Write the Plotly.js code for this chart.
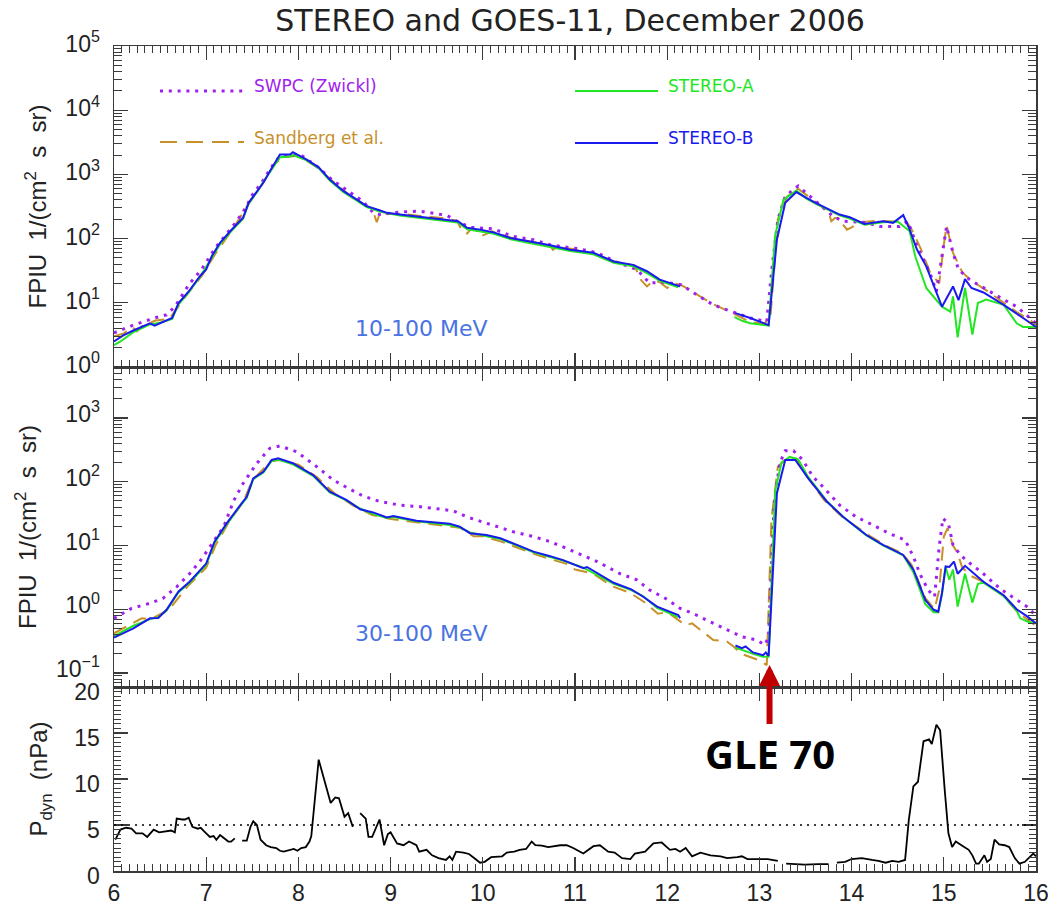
<!DOCTYPE html>
<html>
<head>
<meta charset="utf-8">
<script src="https://cdn.plot.ly/plotly-3.0.1.min.js"></script>
<style>
  html, body { margin: 0; padding: 0; background: #fff; }
  #chart { width: 1048px; height: 907px; }
</style>
</head>
<body>
<div id="chart"></div>
<script>
// ---------- Proton flux, 10-100 MeV (pfu) ----------
const hiSwpcDay = [6.0,6.21,6.44,6.57,6.66,6.72,6.82,6.95,7.10,7.17,7.33,7.44,7.49,7.60,7.67,7.76,7.87,8.02,8.20,8.38,8.54,8.70,8.81,8.88,9.10,9.32,9.61,9.72,9.86,10.11,10.33,10.55,10.73,11.05,11.24,11.45,11.67,11.81,11.96,12.16,12.32,12.50,12.70,12.90,13.08,13.13,13.20,13.28,13.42,13.55,13.66,13.80,13.91,14.13,14.31,14.52,14.61,14.71,14.85,14.92,14.98,15.03,15.10,15.16,15.28,15.43,15.65,15.79,15.93,16.0];
const hiSwpcFlux = [3.4,4.5,5.8,6.5,8.7,11.8,20,33,72,96,186,320,458,740,1060,1700,1950,2040,1340,790,548,380,255,237,260,267,230,186,150,142,108,96,80,69,60,43,33,20.3,21,19,13.3,9.3,7.3,5.8,5.1,29,198,458,660,458,340,223,186,180,155,155,186,76,29,15,53,155,60,33,23,17,11.2,8.7,5.8,4.8];

const hiSandDay = [6.0,6.1,6.2,6.25,6.3,6.45,6.6,6.7,6.8,6.95,7.1,7.3,7.45,7.6,7.75,7.85,8.0,8.2,8.4,8.6,8.78,8.82,8.85,8.88,9.1,9.3,9.55,9.72,9.78,9.83,9.87,9.93,9.97,10.02,10.1,10.3,10.5,10.73,10.76,10.8,11.0,11.2,11.45,11.65,11.70,11.78,11.85,11.92,12.0,12.07,12.15,12.3,12.5,12.7,12.9,13.05,13.12,13.2,13.3,13.42,13.55,13.65,13.75,13.78,13.82,13.85,13.95,14.0,14.1,14.3,14.45,14.6,14.65,14.75,14.85,14.95,15.0,15.03,15.1,15.2,15.3,15.45,15.65,15.8,15.93,16.0];
const hiSandFlux = [3.0,3.3,4.2,3.6,4.3,5.3,5.6,8.8,14,26,58,150,330,690,1500,1850,1950,1300,720,420,300,240,180,240,245,228,210,190,128,120,140,135,108,115,130,104,92,78,67,74,68,58,43,38,24,18,22,21,17,20,19,14,9.5,7,5.0,4.7,6,200,450,600,430,340,260,186,210,210,138,150,180,190,185,180,140,70,30,20,80,160,60,30,22,16,10,7,5.5,4.5];

const hiStaDay = [6.0,6.07,6.21,6.39,6.5,6.63,6.70,6.81,6.93,7.06,7.15,7.26,7.40,7.46,7.55,7.69,7.80,7.91,7.94,8.09,8.22,8.34,8.49,8.63,8.74,8.88,9.10,9.32,9.54,9.73,9.83,9.97,10.11,10.30,10.51,10.73,10.95,11.20,11.42,11.63,11.78,11.92,12.12,12.4,12.73,12.82,12.90,13.10,13.17,13.26,13.40,13.51,13.62,13.87,13.98,14.14,14.34,14.50,14.63,14.69,14.81,14.94,14.98,15.07,15.10,15.15,15.23,15.31,15.37,15.46,15.65,15.79,15.86,16.0];
const hiStaFlux = [2.2,2.5,3.5,4.6,4.9,5.6,9.5,14.5,25,50,82,125,205,350,530,1080,1850,1900,2000,1650,1250,800,530,395,310,265,228,210,195,178,140,130,120,98,86,75,64,57,42,37,29,22,17.5,null,6.0,5.2,4.8,4.4,110,400,560,420,345,230,205,165,180,185,130,53,17,9.9,8.7,7.3,12.6,2.9,17,3.2,9.9,11.2,9.3,4.8,4.2,4.2];

const hiStbDay = [6.0,6.1,6.21,6.3,6.39,6.44,6.55,6.63,6.70,6.81,6.93,7.0,7.06,7.15,7.26,7.40,7.46,7.55,7.62,7.69,7.80,7.91,7.94,8.09,8.22,8.34,8.49,8.63,8.74,8.88,8.96,9.10,9.32,9.54,9.73,9.83,9.97,10.11,10.30,10.51,10.73,10.95,11.20,11.42,11.63,11.78,11.92,12.14,12.4,12.74,12.90,13.10,13.19,13.28,13.40,13.51,13.62,13.87,13.98,14.14,14.34,14.45,14.56,14.63,14.71,14.81,14.98,15.10,15.16,15.23,15.30,15.43,15.65,15.86,16.0];
const hiStbFlux = [2.5,3.1,3.7,4.2,4.8,4.4,5.1,5.8,9.9,15,25.7,33,53,86,130,211,361,548,740,1120,2040,2040,2220,1700,1290,830,548,407,320,277,252,237,218,204,186,147,138,126,102,90,79,67,60,44,39,31,23,18,null,6.9,5.8,4.5,96,361,530,430,354,237,215,169,187,176,232,138,67,37,8.7,18,11,23.4,17,14.5,9.3,5.8,4.2];

// ---------- Proton flux, 30-100 MeV (pfu) ----------
const loSwpcDay = [6.0,6.19,6.39,6.53,6.68,6.82,6.93,7.04,7.19,7.30,7.40,7.55,7.69,7.80,7.98,8.20,8.38,8.54,8.70,8.88,9.10,9.32,9.68,9.83,10.11,10.33,10.55,10.73,10.95,11.24,11.49,11.67,11.81,11.98,12.14,12.28,12.46,12.64,12.81,12.97,13.06,13.10,13.13,13.16,13.22,13.28,13.37,13.47,13.58,13.69,13.87,14.05,14.23,14.40,14.58,14.67,14.74,14.83,14.90,14.95,14.99,15.05,15.10,15.18,15.28,15.43,15.61,15.79,15.93,16.0];
const loSwpcFlux = [0.72,1.03,1.24,1.48,2.25,3.6,5.6,9.5,19.7,51,94,195,335,364,296,172,106,79,60,49,43,40.6,35,28,21,16.4,13.8,11.5,8.5,5.6,3.6,2.9,2.0,1.48,1.03,0.86,0.64,0.48,0.37,0.33,0.275,0.37,5.9,46,195,307,307,220,120,83,43,28,21,15.6,12.2,6.7,3.6,2.0,1.57,9.5,26.7,22,10.2,7.1,5.3,3.6,2.1,1.4,1.03,0.76];

const loSandDay = [6.0,6.2,6.3,6.4,6.6,6.8,7.0,7.1,7.25,7.4,7.5,7.7,7.8,8.0,8.2,8.4,8.6,8.8,9.0,9.3,9.6,9.75,9.9,10.0,10.2,10.4,10.6,10.75,10.9,11.0,11.2,11.4,11.6,11.75,11.9,12.0,12.1,12.2,12.27,12.4,12.5,12.65,12.72,12.8,12.9,13.0,13.08,13.13,13.2,13.3,13.4,13.5,13.7,13.9,14.2,14.4,14.55,14.6,14.65,14.8,14.9,14.95,15.0,15.04,15.1,15.15,15.2,15.3,15.45,15.65,15.8,15.93,16.0];
const loSandFlux = [0.42,0.6,0.72,0.7,1.0,2.3,4.5,10,24,48,105,210,220,185,118,64,42,30,26,23,20.5,19,14,14,11.5,9,7,6,5.2,4.2,3.6,2.3,1.8,1.3,0.85,0.9,0.7,0.56,0.6,0.42,0.33,0.31,0.26,0.2,0.18,0.158,0.133,25,172,240,230,130,52,28,14,9.5,7.5,6.2,5.0,1.5,1.0,2,13.8,18.6,10,7.5,4.5,3.3,2.6,1.6,0.9,0.65,0.55];

const loStaDay = [6.0,6.1,6.21,6.39,6.48,6.57,6.70,6.82,7.0,7.09,7.22,7.37,7.44,7.51,7.62,7.71,7.78,7.94,8.16,8.34,8.52,8.67,8.81,8.96,9.03,9.28,9.64,9.75,9.86,10.04,10.19,10.37,10.55,10.73,10.87,11.09,11.42,11.61,11.74,11.89,12.12,12.4,12.74,12.81,12.93,13.04,13.10,13.17,13.24,13.33,13.42,13.53,13.73,13.91,14.16,14.34,14.56,14.67,14.80,14.89,14.94,14.98,15.02,15.06,15.10,15.15,15.23,15.31,15.37,15.43,15.65,15.79,15.83,15.93,16.0];
const loStaFlux = [0.38,0.45,0.55,0.7,0.75,0.95,1.85,2.6,5.0,11,21,42,56,110,140,212,222,188,124,68,51,38,31,27,28,24,21,19.2,16,14,12.6,10,7.8,6.6,5.8,4.5,2.5,2.0,1.6,1.05,0.75,null,0.25,0.23,0.2,0.18,0.18,70,200,245,225,118,50,28,14.4,10,7.0,3.8,1.2,0.9,0.9,1.7,4.6,2.9,4.2,1.1,3.6,1.27,2.5,2.6,1.6,0.95,0.72,0.62,0.6];

const loStbDay = [6.0,6.1,6.21,6.39,6.48,6.57,6.70,6.82,7.0,7.09,7.22,7.37,7.44,7.51,7.62,7.71,7.78,7.94,8.16,8.34,8.52,8.67,8.81,8.96,9.03,9.28,9.64,9.75,9.86,10.04,10.19,10.37,10.55,10.73,10.87,11.09,11.13,11.42,11.61,11.74,11.89,12.12,12.14,12.4,12.74,12.81,12.85,12.93,13.04,13.07,13.10,13.19,13.28,13.39,13.53,13.73,13.91,14.16,14.34,14.56,14.67,14.80,14.89,14.94,14.98,15.02,15.06,15.11,15.15,15.23,15.43,15.65,15.79,15.90,16.0];
const loStbFlux = [0.36,0.42,0.50,0.72,0.73,0.98,1.9,2.7,5.2,11.5,22,43,58,113,143,220,233,195,127,70,52,37,33,27.6,29,24.4,22,19.7,15.6,14.6,13,10.2,8.0,6.8,5.9,4.4,4.6,2.6,2.05,1.57,1.1,0.81,0.72,null,0.27,0.245,0.26,0.21,0.19,0.21,0.185,66,220,220,113,49,28,14.6,10.2,7.1,4.2,1.4,0.98,0.92,1.8,4.7,4.6,5.6,3.6,4.8,2.7,1.66,1.0,0.78,0.6];

// ---------- Solar wind dynamic pressure (nPa) ----------
const pdynDay = [6.015,6.07,6.13,6.19,6.24,6.31,6.36,6.39,6.43,6.49,6.55,6.62,6.66,6.68,6.74,6.77,6.81,6.85,6.91,6.94,7.0,7.04,7.08,7.11,7.15,7.19,7.24,7.27,7.31,7.35,
  7.39,7.44,7.48,7.51,7.55,7.59,7.65,7.70,7.76,7.80,7.84,7.89,7.95,7.99,8.03,8.08,8.12,8.14,8.22,8.25,8.35,8.40,8.44,8.50,8.54,8.59,8.63,
  8.67,8.73,8.76,8.80,8.88,8.93,8.97,9.0,9.07,9.14,9.20,9.28,9.31,9.39,9.45,9.52,9.60,9.64,9.67,9.71,9.79,9.85,9.92,9.97,10.02,10.09,10.21,10.26,10.34,10.40,10.47,10.53,10.57,10.64,10.71,10.84,10.91,10.98,11.09,11.20,11.27,11.36,11.43,11.51,11.60,11.65,11.76,11.85,11.94,12.03,12.09,12.14,12.20,12.27,12.36,12.47,12.58,12.65,12.76,12.81,12.87,12.98,13.09,13.20,13.25,
  13.29,13.49,13.64,13.75,13.80,
  13.84,13.93,14.0,14.11,14.22,14.29,14.37,14.44,14.51,14.58,14.62,14.67,14.72,14.78,14.84,14.87,14.92,14.96,15.01,15.05,15.09,15.13,15.20,15.27,15.31,15.35,15.38,15.44,15.47,15.51,15.55,15.60,15.66,15.71,15.77,15.82,15.88,15.97,16.0];
const pdynNPa = [3.4,4.5,4.7,4.6,4.1,4.1,3.7,4.0,4.5,4.2,4.3,4.4,4.2,5.7,5.6,5.6,5.8,4.8,4.6,4.7,4.1,3.7,3.8,3.4,3.9,3.55,3.2,3.2,3.55,null,
  3.3,3.3,4.8,5.4,5.0,3.4,2.8,2.6,2.5,2.2,2.1,2.2,2.4,2.2,2.5,2.6,3.2,3.8,12.1,11.0,7.4,8.0,7.9,5.9,6.3,4.8,null,
  6.3,5.7,3.7,3.7,5.6,2.8,4.0,4.2,3.0,2.8,3.2,2.8,2.1,2.3,1.7,1.4,1.2,1.6,1.2,2.1,2.0,1.85,1.3,0.9,1.0,1.5,1.6,2.0,2.1,2.3,2.4,3.2,2.8,2.75,2.6,2.8,2.8,2.5,1.9,2.7,2.8,2.1,2.0,1.4,1.3,1.9,2.1,3.0,3.1,2.3,2.4,2.1,2.5,1.6,2.0,1.7,1.6,1.4,1.5,1.6,1.3,1.3,1.3,1.1,null,
  0.8,0.7,0.75,0.75,null,
  0.9,1.0,1.3,1.4,1.2,1.1,0.9,1.1,1.0,1.2,5.5,9.2,9.7,14.1,14.3,13.8,15.9,15.3,8.8,4.1,2.6,3.2,2.75,2.3,1.7,0.8,0.8,1.7,1.0,1.3,3.4,2.9,2.8,2.6,1.4,0.8,1.0,1.9,1.6];

const pdynThreshold = 5;      // dotted reference level, nPa
const gleDay = 13.11;          // onset of GLE 70
const dayTicks = [6,7,8,9,10,11,12,13,14,15,16];

// ---------- styling ----------
const FONT = 'DejaVu Sans';
const AXFONT = 'Liberation Sans';
const INK = '#3a3a3a';
const C_SWPC = '#a020f0', C_SAND = '#c8902a', C_STA = '#22e622', C_STB = '#1a1aee', C_BAND = '#4a72e2';

function decadeLabels(lo, hi) {
  const v = [], t = [];
  for (let e = lo; e <= hi; e++) { v.push(Math.pow(10, e)); t.push('10<sup>' + (e < 0 ? '\u2212' + (-e) : e) + '</sup>'); }
  return {v, t};
}
function logMinor(lo, hi) {
  const m = [];
  for (let e = lo; e <= hi; e++) for (let k = 2; k <= 9; k++) m.push(k * Math.pow(10, e));
  return m;
}

function line(x, y, color, dash, width, xa, ya) {
  return {x, y, xaxis: xa, yaxis: ya, type: 'scatter', mode: 'lines', connectgaps: false,
          hoverinfo: 'skip', showlegend: false,
          line: {color, width, dash: dash || 'solid'}};
}
const DOT = '3px,5.8px', DASH = '14px,8px';

const traces = [
  line(hiSandDay, hiSandFlux, C_SAND, DASH, 2, 'x2', 'y'),
  line(hiSwpcDay, hiSwpcFlux, C_SWPC, DOT, 3, 'x2', 'y'),
  line(hiStaDay, hiStaFlux, C_STA, null, 2, 'x2', 'y'),
  line(hiStbDay, hiStbFlux, C_STB, null, 2, 'x2', 'y'),
  line(loSandDay, loSandFlux, C_SAND, DASH, 2, 'x3', 'y2'),
  line(loSwpcDay, loSwpcFlux, C_SWPC, DOT, 3, 'x3', 'y2'),
  line(loStaDay, loStaFlux, C_STA, null, 2, 'x3', 'y2'),
  line(loStbDay, loStbFlux, C_STB, null, 2, 'x3', 'y2'),
  line(pdynDay, pdynNPa, '#000', null, 1.8, 'x', 'y3')
];

const xBase = {
  range: [6, 16], tickvals: dayTicks, ticks: 'inside', ticklen: 14, tickwidth: 1.2, tickcolor: INK,
  showline: true, linecolor: INK, linewidth: 1.5, mirror: 'allticks', showgrid: false, zeroline: false,
  minor: {tick0: 6, dtick: 1 / 12, ticks: 'inside', ticklen: 7, tickwidth: 1, tickcolor: INK, showgrid: false}
};
const yBase = {
  ticks: 'inside', ticklen: 14, tickwidth: 1.2, tickcolor: INK, showline: true, linecolor: INK, linewidth: 1.5,
  mirror: 'allticks', showgrid: false, zeroline: false, ticklabelstandoff: 8,
  tickfont: {family: AXFONT, size: 23, color: '#222'},
  title: {font: {family: AXFONT, size: 24, color: '#222'}, standoff: 12}
};

const topDec = decadeLabels(0, 5);
const midDec = decadeLabels(-1, 3);
const fluxTitle = 'FPIU  1/(cm<sup>2</sup>  s  sr)';

const H = 825, B = 871;            // plot-area height and bottom edge, px
const py = p => (B - p) / H;        // page row -> paper fraction
const px = p => (p - 114) / 922;    // page column -> paper fraction

const layout = {
  width: 1048, height: 907,
  margin: {l: 114, r: 12, t: 46, b: 36},
  paper_bgcolor: '#fff', plot_bgcolor: '#fff',
  showlegend: false,
  title: {text: 'STEREO and GOES-11, December 2006', x: 0.544, xanchor: 'center', y: 0.977, yanchor: 'middle',
          font: {family: FONT, size: 30, color: '#222'}},
  xaxis: Object.assign({}, xBase, {anchor: 'y3', showticklabels: true, ticklabelstandoff: 1,
          ticklabeloverflow: 'allow', tickfont: {family: AXFONT, size: 23, color: '#222'}}),
  xaxis2: Object.assign({}, xBase, {anchor: 'y', matches: 'x', showticklabels: false}),
  xaxis3: Object.assign({}, xBase, {anchor: 'y2', matches: 'x', showticklabels: false}),
  yaxis: Object.assign({}, yBase, {domain: [py(367), 1], type: 'log', range: [0, 5],
          tickvals: topDec.v, ticktext: topDec.t, ticklabelshift: -2,
          minor: {tickvals: logMinor(0, 4), ticks: 'inside', ticklen: 8, tickwidth: 1, tickcolor: INK},
          title: Object.assign({}, yBase.title, {text: fluxTitle})}),
  yaxis2: Object.assign({}, yBase, {domain: [py(687), py(367)], type: 'log', range: [-1.22, 3.8],
          tickvals: midDec.v, ticktext: midDec.t, ticklabelshift: -4,
          minor: {tickvals: logMinor(-2, 3), ticks: 'inside', ticklen: 8, tickwidth: 1, tickcolor: INK},
          title: Object.assign({}, yBase.title, {text: fluxTitle})}),
  yaxis3: Object.assign({}, yBase, {domain: [0, py(687)], range: [0, 20], tickvals: [0, 5, 10, 15, 20],
          ticklabelshift: 5,
          minor: {tick0: 0, dtick: 0.5, ticks: 'inside', ticklen: 7, tickwidth: 1, tickcolor: INK},
          title: Object.assign({}, yBase.title, {text: 'P<sub>dyn</sub>  (nPa)', standoff: 20})}),
  shapes: [
    {type: 'line', xref: 'x', yref: 'y3', x0: 6, x1: 16, y0: pdynThreshold, y1: pdynThreshold,
     line: {color: '#000', width: 1.6, dash: '2px,5px'}},
    // key samples
    {type: 'line', xref: 'paper', yref: 'paper', x0: px(160), x1: px(244), y0: py(91), y1: py(91), line: {color: C_SWPC, width: 3, dash: DOT}},
    {type: 'line', xref: 'paper', yref: 'paper', x0: px(160), x1: px(244), y0: py(142), y1: py(142), line: {color: C_SAND, width: 2, dash: '17px,9px'}},
    {type: 'line', xref: 'paper', yref: 'paper', x0: px(575), x1: px(658), y0: py(91), y1: py(91), line: {color: C_STA, width: 2}},
    {type: 'line', xref: 'paper', yref: 'paper', x0: px(575), x1: px(658), y0: py(143), y1: py(143), line: {color: C_STB, width: 2}}
  ],
  annotations: [
    {xref: 'paper', yref: 'paper', x: px(252), y: py(86), xanchor: 'left', yanchor: 'middle', showarrow: false,
     text: 'SWPC (Zwickl)', font: {family: FONT, size: 17, color: C_SWPC}},
    {xref: 'paper', yref: 'paper', x: px(252), y: py(138), xanchor: 'left', yanchor: 'middle', showarrow: false,
     text: 'Sandberg et al.', font: {family: FONT, size: 17, color: C_SAND}},
    {xref: 'paper', yref: 'paper', x: px(666), y: py(86), xanchor: 'left', yanchor: 'middle', showarrow: false,
     text: 'STEREO-A', font: {family: FONT, size: 17, color: C_STA}},
    {xref: 'paper', yref: 'paper', x: px(666), y: py(138), xanchor: 'left', yanchor: 'middle', showarrow: false,
     text: 'STEREO-B', font: {family: FONT, size: 17, color: C_STB}},
    {xref: 'paper', yref: 'paper', x: px(421), y: py(328), xanchor: 'center', yanchor: 'middle', showarrow: false,
     text: '10-100 MeV', font: {family: FONT, size: 22, color: C_BAND}},
    {xref: 'paper', yref: 'paper', x: px(421), y: py(634), xanchor: 'center', yanchor: 'middle', showarrow: false,
     text: '30-100 MeV', font: {family: FONT, size: 22, color: C_BAND}},
    {xref: 'x', yref: 'paper', x: gleDay, y: py(665), ax: 0, ay: 88, showarrow: true,
     arrowhead: 2, arrowsize: 0.7, arrowwidth: 6, arrowcolor: '#c00000', standoff: 0,
     text: '<b>GLE 70</b>', font: {family: 'Open Sans', size: 40, color: '#000'}}
  ]
};

Plotly.newPlot('chart', traces, layout, {staticPlot: true, displayModeBar: false});
</script>
</body>
</html>
